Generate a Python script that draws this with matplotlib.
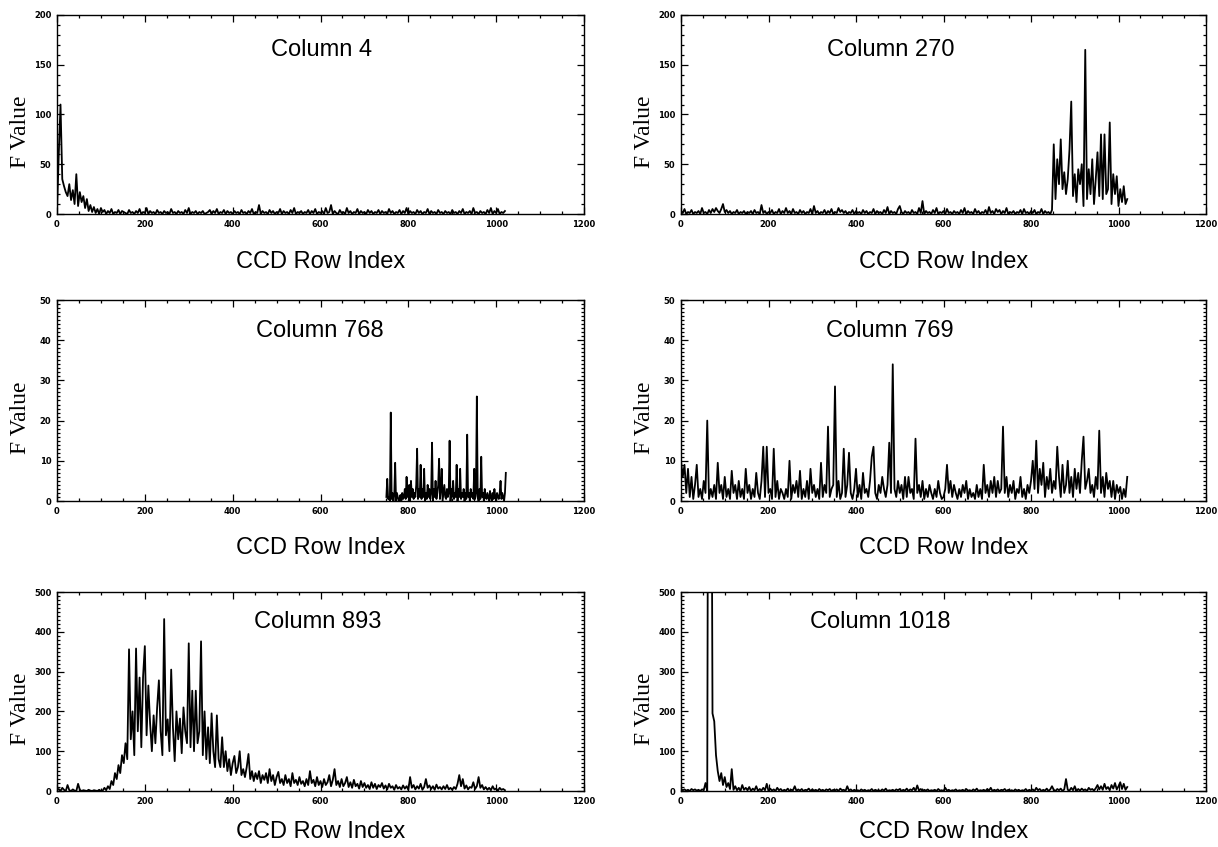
import numpy as np
import matplotlib
matplotlib.use('Agg')
import matplotlib.pyplot as plt
from matplotlib.ticker import MultipleLocator
from matplotlib.font_manager import FontProperties

# CCD row index (every 4th row is enough for the picture)
rows = np.arange(0, 1024, 4)
rows_768 = np.arange(750, 1024, 2)

col4 = [2, 60, 110, 35, 28, 22, 18, 30, 14, 24, 10, 40, 8, 22, 12, 18, 6, 15, 3, 9,
        2, 7, 1, 5, 0, 6, 2, 4, 0, 3, 1, 5, 0, 2, 1, 4, 0, 3, 2, 1,
        0, 4, 1, 2, 0, 3, 1, 5, 0, 2, 1, 6, 0, 3, 1, 2, 0, 4, 1, 2,
        0, 3, 1, 2, 0, 5, 1, 2, 0, 3, 1, 2, 0, 4, 1, 6, 0, 2, 1, 3,
        0, 2, 1, 3, 0, 1, 2, 4, 0, 3, 1, 5, 0, 2, 1, 4, 0, 3, 1, 2,
        0, 3, 1, 2, 0, 4, 1, 2, 0, 3, 1, 5, 0, 2, 1, 9, 0, 3, 1, 2,
        0, 4, 1, 3, 0, 2, 1, 5, 0, 3, 1, 2, 0, 4, 1, 6, 0, 2, 1, 3,
        0, 2, 1, 4, 0, 3, 1, 5, 0, 2, 1, 3, 0, 6, 1, 2, 9, 0, 3, 1,
        0, 4, 1, 2, 0, 6, 1, 3, 0, 2, 1, 5, 0, 3, 1, 2, 0, 4, 1, 3,
        0, 2, 1, 4, 0, 3, 1, 2, 0, 5, 1, 3, 0, 2, 1, 4, 0, 3, 1, 6,
        0, 3, 1, 2, 0, 4, 1, 3, 0, 2, 1, 5, 0, 3, 1, 2, 0, 4, 1, 2,
        0, 3, 1, 2, 0, 4, 1, 2, 0, 3, 1, 5, 0, 2, 1, 3, 0, 6, 1, 2,
        0, 3, 1, 2, 0, 4, 1, 6, 0, 3, 1, 5, 0, 2, 1, 3]

col270 = [3, 1, 5, 0, 2, 1, 4, 0, 2, 1, 3, 0, 6, 1, 2, 0, 4, 1, 5, 2,
          6, 3, 1, 5, 10, 2, 4, 1, 3, 0, 2, 1, 4, 0, 2, 1, 3, 0, 2, 1,
          3, 0, 4, 1, 2, 0, 9, 1, 3, 0, 2, 1, 4, 0, 2, 1, 5, 0, 3, 1,
          6, 1, 3, 0, 5, 1, 2, 0, 4, 1, 3, 0, 2, 1, 5, 0, 8, 1, 3, 0,
          2, 1, 4, 0, 3, 1, 5, 0, 2, 1, 6, 2, 4, 1, 3, 0, 2, 1, 4, 0,
          3, 1, 2, 0, 4, 1, 3, 0, 2, 1, 5, 0, 3, 1, 2, 0, 4, 1, 7, 0,
          3, 1, 2, 0, 5, 8, 2, 0, 3, 1, 2, 0, 4, 1, 2, 0, 6, 1, 13, 0,
          3, 1, 2, 0, 4, 1, 6, 0, 2, 1, 3, 0, 5, 1, 2, 0, 3, 1, 2, 0,
          4, 1, 6, 0, 3, 1, 2, 0, 5, 1, 3, 0, 2, 1, 4, 0, 7, 1, 3, 0,
          5, 2, 4, 0, 3, 1, 6, 0, 2, 1, 3, 0, 2, 1, 4, 0, 5, 1, 2, 0,
          3, 1, 4, 0, 2, 1, 5, 0, 3, 1, 2, 0, 4, 70, 15, 55, 30, 75, 25, 42,
          20, 35, 65, 113, 18, 40, 12, 45, 30, 50, 8, 165, 15, 45, 20, 55, 10, 35, 62, 18,
          80, 15, 80, 20, 25, 92, 10, 40, 20, 38, 8, 25, 12, 28, 10, 15]

col768 = [1, 5.5, 0.5, 1, 0, 22, 0.5, 2, 0, 1.5,
          9.5, 0, 2, 1, 0, 0.5, 1.5, 0, 2, 0.5,
          1, 3, 0.5, 6, 1, 2, 4, 0, 5, 1,
          3, 0.5, 2, 1, 4, 13, 0.5, 3, 1, 9,
          0.5, 3, 1, 8, 0, 2, 0.5, 4, 1, 3,
          0.5, 2, 14.5, 0, 3, 1, 5, 0.5, 2, 4,
          10.5, 0.5, 3, 8, 0, 2, 4, 1, 0.5, 3,
          1, 2, 15, 0, 3, 1, 5, 0.5, 2, 1,
          9, 0, 3, 1, 8, 0.5, 2, 1, 3, 0,
          2, 0.5, 16.5, 1, 2, 0, 3, 1, 2, 0.5,
          8, 0.5, 2, 26, 1, 0, 3, 0.5, 11, 1,
          2, 0, 3, 1, 0.5, 2, 1, 0, 2.5, 1,
          0, 2, 0.5, 3, 1, 0, 2, 1, 0.5, 2,
          5, 0.5, 2, 1, 0, 2, 7]

col769 = [10, 6, 9, 2, 8, 1, 6, 0.5, 4, 9, 1, 3, 0.5, 5, 2, 20, 0.5, 3, 1, 4,
          0.5, 9.5, 2, 4, 0.5, 6, 1, 3, 0.5, 7.5, 2, 4, 0.5, 5, 1, 3, 0.5, 8, 2, 4,
          0.5, 3, 1, 7, 2, 0.5, 5, 13.5, 1, 13.5, 2, 3, 0.5, 13, 1, 5, 0.5, 3, 2, 0.5,
          3, 1, 10, 0.5, 4, 2, 5, 1, 7.5, 0.5, 3, 1, 5, 0.5, 8, 2, 4, 1, 3, 0.5,
          9.5, 1, 4, 2, 18.5, 1, 3, 4, 28.5, 1, 5, 0.5, 2, 13, 1, 4, 12, 2, 0.5, 3,
          8, 1, 4, 0.5, 7, 2, 3, 1, 5, 11, 13.5, 2, 0.5, 4, 2, 6, 3, 1, 4, 14.5,
          2, 34, 3, 1, 5, 2, 4, 0.5, 6, 1, 6, 2, 3, 0.5, 15.5, 2, 4, 1, 5, 0.5,
          3, 1, 4, 2, 0.5, 3, 1, 5, 2, 0.5, 1, 3, 9, 2, 5, 1, 4, 2, 0.5, 3,
          1, 4, 2, 5, 0.5, 3, 1, 2, 0.5, 4, 1, 3, 0.5, 9, 2, 4, 1, 5, 2, 6,
          1, 5, 2, 3, 18.5, 2, 6, 1, 4, 2, 5, 0.5, 3, 2, 6, 1, 3, 0.5, 4, 2,
          5, 10, 3, 15, 2, 8, 4, 9.5, 1, 6, 3, 8, 2, 5, 3, 13.5, 6, 1, 9, 2,
          4, 10, 2, 6, 1, 8, 3, 7, 2, 10, 16, 3, 5, 8, 2, 4, 1, 6, 3, 17.5,
          2, 6, 1, 7, 3, 5, 1, 5, 0.5, 4, 2, 3.5, 0.5, 3, 1, 6]

col893 = [2, 5, 0, 8, 3, 0, 15, 2, 0, 4, 1, 0, 18, 3, 0, 2, 1, 0, 3, 1,
          0, 2, 1, 0, 3, 0, 1, 8, 2, 12, 5, 25, 15, 45, 30, 65, 45, 90, 70, 120,
          80, 356, 130, 200, 90, 358, 150, 285, 110, 288, 364, 140, 265, 170, 100, 190, 120, 210, 278, 150,
          90, 432, 140, 180, 100, 305, 160, 75, 200, 130, 182, 95, 210, 150, 120, 371, 110, 252, 100, 252,
          120, 150, 376, 90, 200, 80, 160, 70, 195, 100, 60, 190, 80, 60, 135, 60, 100, 50, 80, 40,
          70, 88, 45, 60, 100, 40, 55, 35, 60, 93, 30, 50, 25, 45, 30, 50, 20, 40, 28, 45,
          20, 55, 25, 40, 15, 35, 48, 20, 30, 15, 40, 20, 30, 12, 45, 20, 28, 15, 35, 18,
          25, 12, 30, 15, 50, 20, 28, 12, 35, 15, 25, 10, 30, 15, 22, 40, 12, 28, 55, 15,
          25, 10, 30, 12, 20, 35, 10, 22, 8, 28, 12, 18, 6, 25, 10, 20, 8, 15, 5, 22,
          8, 18, 5, 15, 10, 20, 6, 14, 4, 18, 8, 12, 3, 15, 6, 10, 4, 14, 6, 12,
          3, 35, 8, 15, 4, 12, 6, 18, 3, 10, 30, 8, 14, 5, 12, 3, 16, 6, 10, 4,
          12, 5, 15, 4, 8, 3, 10, 5, 18, 40, 12, 30, 6, 14, 4, 10, 8, 22, 5, 12,
          35, 8, 15, 4, 10, 3, 8, 2, 12, 4, 6, 1, 8, 3, 5, 2]

col1018 = [5, 2, 4, 1, 3, 0, 5, 2, 4, 1, 3, 0, 4, 2, 20, 0, 2000, 1500, 195, 175,
           90, 50, 25, 45, 15, 35, 10, 20, 5, 55, 3, 12, 2, 8, 0, 15, 3, 8, 2, 10,
           0, 6, 2, 12, 0, 5, 1, 8, 2, 18, 0, 6, 1, 4, 0, 8, 2, 5, 0, 3,
           1, 6, 0, 3, 2, 12, 0, 4, 1, 5, 0, 3, 2, 6, 0, 4, 1, 3, 0, 5,
           1, 3, 0, 4, 2, 5, 0, 3, 1, 4, 0, 6, 2, 3, 0, 12, 1, 4, 0, 3,
           1, 2, 0, 4, 1, 3, 0, 2, 1, 5, 0, 3, 1, 2, 0, 4, 1, 6, 0, 2,
           1, 3, 0, 4, 2, 5, 0, 3, 1, 6, 0, 4, 2, 8, 0, 14, 1, 5, 0, 3,
           1, 4, 0, 2, 1, 3, 0, 5, 1, 2, 0, 8, 1, 3, 0, 2, 1, 4, 0, 2,
           1, 3, 0, 5, 1, 2, 0, 4, 1, 6, 0, 2, 1, 3, 0, 5, 1, 8, 0, 3,
           1, 4, 0, 3, 2, 5, 0, 3, 1, 2, 0, 4, 1, 3, 0, 2, 1, 5, 0, 3,
           1, 4, 0, 8, 2, 5, 0, 3, 1, 6, 0, 4, 12, 3, 0, 5, 2, 6, 0, 4,
           30, 3, 1, 8, 2, 12, 0, 5, 1, 6, 2, 4, 0, 8, 3, 5, 1, 7, 15, 4,
           12, 3, 18, 5, 10, 2, 15, 6, 20, 4, 12, 22, 5, 18, 3, 10]

titles = ['Column 4', 'Column 270', 'Column 768', 'Column 769', 'Column 893', 'Column 1018']
xs = [rows, rows, rows_768, rows, rows, rows]
ys = [col4, col270, col768, col769, col893, col1018]
ymax = [200, 200, 50, 50, 500, 500]
ymajor = [50, 50, 10, 10, 100, 100]
yminor = [10, 10, 1, 1, 10, 10]

W, H = 1218, 847
fig = plt.figure(figsize=(W / 100, H / 100), dpi=100)

# pixel boxes of the axes: left, top, right, bottom
boxes = [(57, 15, 584, 214), (681, 15, 1206, 214),
         (57, 300, 584, 501), (681, 300, 1206, 501),
         (57, 592, 584, 791), (681, 592, 1206, 791)]
title_pos = [(322, 50), (891, 50), (320, 331), (890, 331), (318, 622), (880, 622)]
xlab_off = [48, 48, 47, 47, 41, 41]

tickfont = FontProperties(family='DejaVu Sans', weight='bold', size=6)

for i in range(6):
    l, t, r, b = boxes[i]
    ax = fig.add_axes([l / W, 1 - b / H, (r - l) / W, (b - t) / H])
    ax.plot(xs[i], ys[i], color='black', lw=1.3)
    ax.set_xlim(0, 1200)
    ax.set_ylim(0, ymax[i])
    ax.xaxis.set_major_locator(MultipleLocator(200))
    ax.xaxis.set_minor_locator(MultipleLocator(50))
    ax.yaxis.set_major_locator(MultipleLocator(ymajor[i]))
    ax.yaxis.set_minor_locator(MultipleLocator(yminor[i]))
    ax.tick_params(which='both', direction='in', top=True, right=True, width=0.9)
    ax.tick_params(which='major', length=5, pad=4)
    ax.tick_params(which='minor', length=2.5)
    for lab in ax.get_xticklabels() + ax.get_yticklabels():
        lab.set_fontproperties(tickfont)
    for s in ax.spines.values():
        s.set_linewidth(1.0)

    fig.text(title_pos[i][0] / W, 1 - title_pos[i][1] / H, titles[i],
             family='Liberation Sans', size=17, ha='center', va='center')
    cx = (l + r) / 2
    fig.text(cx / W, 1 - (b + xlab_off[i]) / H, 'CCD Row Index',
             family='Liberation Sans', size=17, ha='center', va='center')
    fig.text((l - 36) / W, 1 - ((t + b) / 2 + 17) / H, 'F Value',
             family='Liberation Serif', size=17, ha='center', va='center', rotation=90)

fig.savefig('out.png', dpi=100)
